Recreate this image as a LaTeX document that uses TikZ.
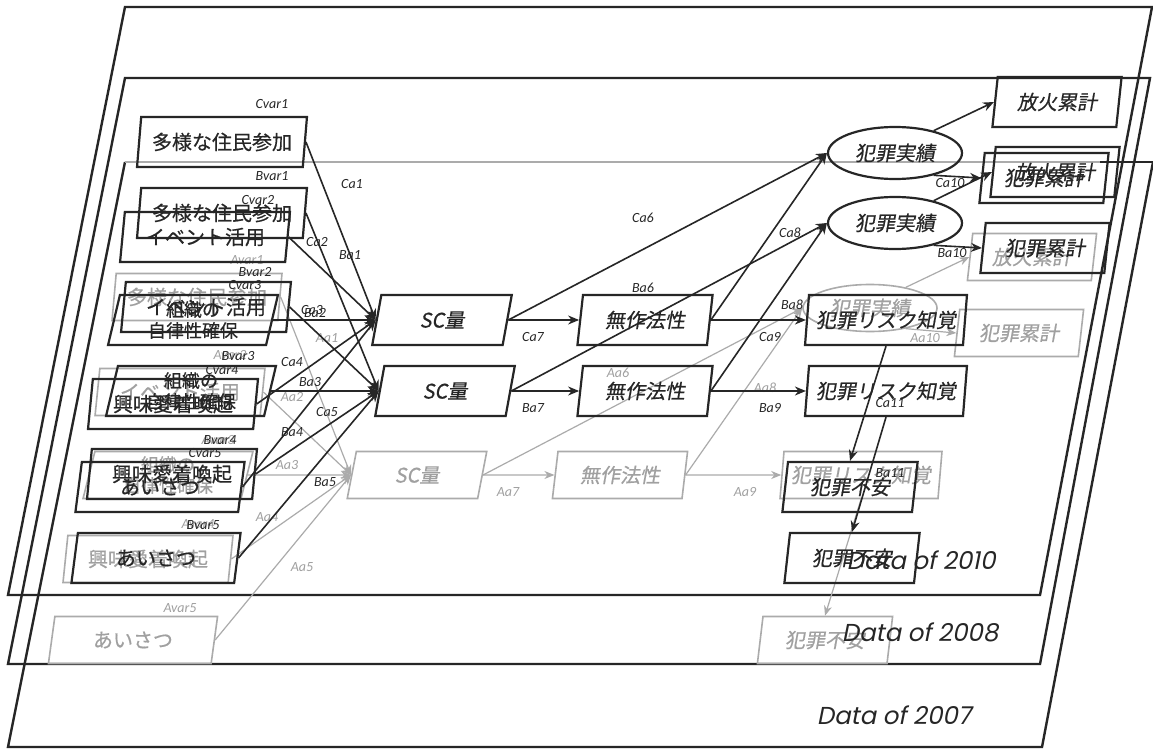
\documentclass[tikz,border=0pt]{standalone}
\usepackage{fontspec}
\usetikzlibrary{shapes.geometric,arrows.meta}
\newfontfamily\jp[FakeBold=0.5]{Noto Sans CJK JP}
\newfontfamily\jpsl[FakeSlant=0.18,FakeBold=0.5]{Noto Sans CJK JP}
\newfontfamily\lblf{Carlito}
\newfontfamily\dataf[FakeSlant=0.2]{Poppins}
\definecolor{ink}{HTML}{262626}
\definecolor{pale}{HTML}{ABABAB}
\definecolor{paletext}{HTML}{A0A0A0}
\tikzset{
  plane/.style={draw=ink, line width=2.4pt},
  pbox/.style={trapezium, trapezium left angle=79, trapezium right angle=101,
     trapezium stretches=true, minimum width=#1, minimum height=50pt,
     inner sep=0pt, align=center},
  cb/.style={draw=ink, line width=2.2pt, text=ink},
  ab/.style={draw=pale, line width=1.6pt, text=paletext, minimum height=47pt},
  up/.style={font={\jp\fontsize{20pt}{23pt}\selectfont}},
  upsm/.style={font={\jp\fontsize{18pt}{21pt}\selectfont}},
  sl/.style={font={\jpsl\fontsize{20pt}{23pt}\selectfont}},
  oval/.style={ellipse, minimum width=134pt, minimum height=52pt, inner sep=0pt},
  lbl/.style={font={\lblf\itshape\fontsize{14pt}{16pt}\selectfont}, text=ink, inner sep=0pt},
  albl/.style={lbl, text=paletext},
  datal/.style={font={\dataf\fontsize{24.5pt}{27pt}\selectfont}, text=ink, inner sep=0pt},
  carr/.style={draw=ink, line width=1.6pt, -{Stealth[length=11pt,width=9pt]}},
  aarr/.style={draw=pale, line width=1.2pt, -{Stealth[length=10pt,width=8pt]}},
}
\begin{document}
\begin{tikzpicture}[x=1pt,y=-1pt]
\fill[white] (0,0) rectangle (1153,749);
\useasboundingbox (0,0) rectangle (1153,749);

% planes
\draw[plane] (125,7) -- (1152,7) -- (1040,595) -- (8,595) -- cycle;
\draw[plane] (125,78) -- (1150,78) -- (1040,664) -- (8,664) -- cycle;
\draw[plane] (1153,162) -- (1042,747) -- (8,747) -- (125,162);
\draw[draw=pale, line width=1.5pt] (125,162) -- (1100,162);
\draw[plane] (1100,162) -- (1153,162);

% ---------- layer A (2007, gray) ----------
\node[pbox=170, ab, up] (aV1) at (197,297) {多様な住民参加};
\node[pbox=170, ab, up] (aV2) at (180,392) {イベント活用};
\node[pbox=170, ab, upsm] (aV3) at (168,475) {組織の\\自律性確保};
\node[pbox=170, ab, up] (aV4) at (148,559) {興味愛着喚起};
\node[pbox=170, ab, up] (aV5) at (133,640) {あいさつ};
\node[pbox=140, ab, sl] (aSC) at (417,475) {SC量};
\node[pbox=136, ab, sl] (aMu) at (620,475) {無作法性};
\node[oval, ab, sl] (aJi) at (870,308) {犯罪実績};
\node[pbox=130, ab, sl] (aHo) at (1032,257) {放火累計};
\node[pbox=130, ab, sl] (aHa) at (1019,333) {犯罪累計};
\node[pbox=162, ab, sl] (aRi) at (861,475) {犯罪リスク知覚};
\node[pbox=136, ab, sl] (aFu) at (825,640) {犯罪不安};

\draw[aarr] (aV1.east) -- (aSC.west);
\draw[aarr] (aV2.east) -- (aSC.west);
\draw[aarr] (aV3.east) -- (aSC.west);
\draw[aarr] (aV4.east) -- (aSC.west);
\draw[aarr] (aV5.east) -- (aSC.west);
\draw[aarr] (aSC.east) -- (aMu.west);
\draw[aarr] (aSC.east) -- (aJi.west);
\draw[aarr] (aMu.east) -- (aJi.west);
\draw[aarr] (aMu.east) -- (aRi.west);
\draw[aarr] (aJi.30) -- (aHo.west);
\draw[aarr] (aJi.-30) -- (aHa.west);
\draw[aarr] (aRi.south) -- (aFu.north);

\node[albl] (lAvar1) at (247,260) {Avar1};
\node[albl] (lAvar2) at (230,355) {Avar2};
\node[albl] (lAvar3) at (218,440) {Avar3};
\node[albl] (lAvar4) at (198,524) {Avar4};
\node[albl] (lAvar5) at (180,608) {Avar5};
\node[albl] (lAa1) at (327,338) {Aa1};
\node[albl] (lAa2) at (292,397) {Aa2};
\node[albl] (lAa3) at (287,465) {Aa3};
\node[albl] (lAa4) at (267,517) {Aa4};
\node[albl] (lAa5) at (302,567) {Aa5};
\node[albl] (lAa6) at (618,373) {Aa6};
\node[albl] (lAa7) at (508,492) {Aa7};
\node[albl] (lAa8) at (765,388) {Aa8};
\node[albl] (lAa9) at (745,492) {Aa9};
\node[albl] (lAa10) at (925,338) {Aa10};

% ---------- layer B (2008) ----------
\node[pbox=170, cb, up] (bV1) at (222,213) {多様な住民参加};
\node[pbox=170, cb, up] (bV2) at (206,307) {イベント活用};
\node[pbox=170, cb, upsm] (bV3) at (191,391) {組織の\\自律性確保};
\node[pbox=170, cb, up] (bV4) at (172,474) {興味愛着喚起};
\node[pbox=170, cb, up] (bV5) at (156,558) {あいさつ};
\node[pbox=140, cb, sl] (bSC) at (445,391) {SC量};
\node[pbox=136, cb, sl] (bMu) at (645,391) {無作法性};
\node[oval, cb, sl] (bJi) at (895,223) {犯罪実績};
\node[pbox=130, cb, sl] (bHo) at (1055,172) {放火累計};
\node[pbox=130, cb, sl] (bHa) at (1045,248) {犯罪累計};
\node[pbox=162, cb, sl] (bRi) at (886,391) {犯罪リスク知覚};
\node[pbox=136, cb, sl] (bFu) at (852,558) {犯罪不安};

\draw[carr] (bV1.east) -- (bSC.west);
\draw[carr] (bV2.east) -- (bSC.west);
\draw[carr] (bV3.east) -- (bSC.west);
\draw[carr] (bV4.east) -- (bSC.west);
\draw[carr] (bV5.east) -- (bSC.west);
\draw[carr] (bSC.east) -- (bMu.west);
\draw[carr] (bSC.east) -- (bJi.west);
\draw[carr] (bMu.east) -- (bJi.west);
\draw[carr] (bMu.east) -- (bRi.west);
\draw[carr] (bJi.30) -- (bHo.west);
\draw[carr] (bJi.-30) -- (bHa.west);
\draw[carr] (bRi.south) -- (bFu.north);

\node[lbl] (lBvar1) at (272,176) {Bvar1};
\node[lbl] (lBvar2) at (255,272) {Bvar2};
\node[lbl] (lBvar3) at (238,356) {Bvar3};
\node[lbl] (lBvar4) at (220,440) {Bvar4};
\node[lbl] (lBvar5) at (203,525) {Bvar5};
\node[lbl] (lBa1) at (350,255) {Ba1};
\node[lbl] (lBa2) at (315,313) {Ba2};
\node[lbl] (lBa3) at (310,382) {Ba3};
\node[lbl] (lBa4) at (292,432) {Ba4};
\node[lbl] (lBa5) at (325,482) {Ba5};
\node[lbl] (lBa6) at (643,288) {Ba6};
\node[lbl] (lBa7) at (533,408) {Ba7};
\node[lbl] (lBa8) at (792,305) {Ba8};
\node[lbl] (lBa9) at (770,408) {Ba9};
\node[lbl] (lBa10) at (952,253) {Ba10};
\node[lbl] (lBa11) at (890,473) {Ba11};

% ---------- layer C (2010) ----------
\node[pbox=170, cb, up] (cV1) at (222,142) {多様な住民参加};
\node[pbox=170, cb, up] (cV2) at (205,237) {イベント活用};
\node[pbox=170, cb, upsm] (cV3) at (193,320) {組織の\\自律性確保};
\node[pbox=170, cb, up] (cV4) at (173,404) {興味愛着喚起};
\node[pbox=170, cb, up] (cV5) at (160,487) {あいさつ};
\node[pbox=140, cb, sl] (cSC) at (442,320) {SC量};
\node[pbox=136, cb, sl] (cMu) at (645,320) {無作法性};
\node[oval, cb, sl] (cJi) at (895,153) {犯罪実績};
\node[pbox=130, cb, sl] (cHo) at (1057,102) {放火累計};
\node[pbox=130, cb, sl] (cHa) at (1044,178) {犯罪累計};
\node[pbox=162, cb, sl] (cRi) at (886,320) {犯罪リスク知覚};
\node[pbox=136, cb, sl] (cFu) at (850,487) {犯罪不安};

\draw[carr] (cV1.east) -- (cSC.west);
\draw[carr] (cV2.east) -- (cSC.west);
\draw[carr] (cV3.east) -- (cSC.west);
\draw[carr] (cV4.east) -- (cSC.west);
\draw[carr] (cV5.east) -- (cSC.west);
\draw[carr] (cSC.east) -- (cMu.west);
\draw[carr] (cSC.east) -- (cJi.west);
\draw[carr] (cMu.east) -- (cJi.west);
\draw[carr] (cMu.east) -- (cRi.west);
\draw[carr] (cJi.30) -- (cHo.west);
\draw[carr] (cJi.-30) -- (cHa.west);
\draw[carr] (cRi.south) -- (cFu.north);

\node[lbl] (lCvar1) at (272,104) {Cvar1};
\node[lbl] (lCvar2) at (258,200) {Cvar2};
\node[lbl] (lCvar3) at (245,285) {Cvar3};
\node[lbl] (lCvar4) at (222,370) {Cvar4};
\node[lbl] (lCvar5) at (205,453) {Cvar5};
\node[lbl] (lCa1) at (352,184) {Ca1};
\node[lbl] (lCa2) at (317,242) {Ca2};
\node[lbl] (lCa3) at (312,310) {Ca3};
\node[lbl] (lCa4) at (292,362) {Ca4};
\node[lbl] (lCa5) at (327,412) {Ca5};
\node[lbl] (lCa6) at (643,218) {Ca6};
\node[lbl] (lCa7) at (533,337) {Ca7};
\node[lbl] (lCa8) at (790,233) {Ca8};
\node[lbl] (lCa9) at (770,337) {Ca9};
\node[lbl] (lCa10) at (950,183) {Ca10};
\node[lbl] (lCa11) at (890,403) {Ca11};

% plane titles
\node[datal] (d2010) at (921,560) {Data of 2010};
\node[datal] (d2008) at (920,632) {Data of 2008};
\node[datal] (d2007) at (894,715) {Data of 2007};
\end{tikzpicture}
\end{document}
